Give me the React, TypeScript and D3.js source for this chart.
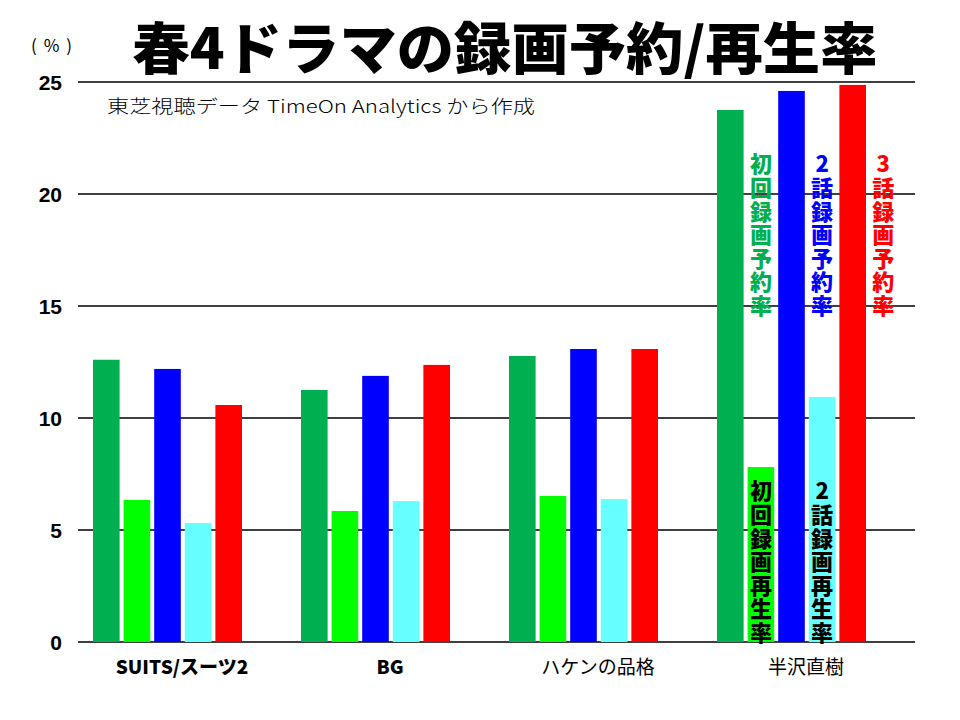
import { scaleBand, scaleLinear } from "d3";

const categories = ["SUITS/スーツ2", "BG", "ハケンの品格", "半沢直樹"];
const boldCategory = [true, true, false, false];

const seriesKeys = ["rsv1", "play1", "rsv2", "play2", "rsv3"];
const seriesColors = ["#00b050", "#00ff00", "#0000ff", "#66ffff", "#ff0000"];

// 初回録画予約率, 初回録画再生率, 2話録画予約率, 2話録画再生率, 3話録画予約率
const rsv1 = [12.6, 11.25, 12.77, 23.75];
const play1 = [6.34, 5.85, 6.52, 7.81];
const rsv2 = [12.19, 11.88, 13.08, 24.6];
const play2 = [5.31, 6.29, 6.38, 10.94];
const rsv3 = [10.58, 12.37, 13.08, 24.87];
const seriesValues = [rsv1, play1, rsv2, play2, rsv3];

const yTicks = [0, 5, 10, 15, 20, 25];

// vertical labels placed in the last group
const topLabels = [
  { text: "初回録画予約率", slot: 1, color: "#00b050" },
  { text: "2話録画予約率", slot: 3, color: "#0000ff" },
  { text: "3話録画予約率", slot: 5, color: "#ff0000" },
];
const bottomLabels = [
  { text: "初回録画再生率", slot: 1, color: "#000000" },
  { text: "2話録画再生率", slot: 3, color: "#000000" },
];

const W = 960;
const H = 720;
const PLOT = { left: 78, right: 910, top: 82, bottom: 642 };
const GRID_RIGHT = 915;
const CJK = "'Noto Sans CJK JP', sans-serif";

export default function App() {
  const x = scaleBand<string>().domain(categories).range([PLOT.left, PLOT.right]).padding(0);
  const inner = scaleBand<string>().domain(seriesKeys).range([15, 164]).paddingInner(0.13);
  const y = scaleLinear().domain([0, 25]).range([PLOT.bottom, PLOT.top]);
  const bw = inner.bandwidth();
  const step = inner.step();

  const last = categories[categories.length - 1];
  const slotX = (slot: number) => (x(last) ?? 0) + (inner(seriesKeys[0]) ?? 0) + slot * step + bw / 2;

  const vertical = (text: string, cx: number, topY: number, color: string, key: string) => (
    <text
      key={key}
      x={cx}
      y={topY}
      fontFamily={CJK}
      fontWeight={900}
      fontSize={22}
      fill={color}
      letterSpacing={1.6}
      style={{ writingMode: "vertical-rl", textOrientation: "upright" }}
    >
      {text}
    </text>
  );

  return (
    <svg
      width={W}
      height={H}
      viewBox={`0 0 ${W} ${H}`}
      style={{ position: "absolute", left: 0, top: 0, background: "#fff" }}
    >
      {/* Title */}
      <text
        x={505}
        y={69}
        textAnchor="middle"
        fontFamily={CJK}
        fontWeight={900}
        fontSize={56}
        textLength={745}
        lengthAdjust="spacingAndGlyphs"
      >
        春4ドラマの録画予約/再生率
      </text>
      <text
        x={31}
        y={52}
        fontFamily={CJK}
        fontSize={17}
        textLength={41}
        lengthAdjust="spacing"
      >
        (%)
      </text>

      {/* Gridlines + y labels */}
      {yTicks.map((t) => (
        <g key={t}>
          <line x1={PLOT.left} x2={GRID_RIGHT} y1={y(t)} y2={y(t)} stroke="#000" strokeWidth={1.3} />
          <text
            x={62}
            y={y(t)}
            dy="0.36em"
            textAnchor="end"
            fontFamily="'Liberation Sans', Arial, sans-serif"
            fontWeight={700}
            fontSize={21}
          >
            {t}
          </text>
        </g>
      ))}

      <text
        x={107}
        y={113}
        fontFamily={CJK}
        fontWeight={300}
        fontSize={18}
        textLength={428}
        lengthAdjust="spacingAndGlyphs"
      >
        東芝視聴データ TimeOn Analytics から作成
      </text>

      {/* Bars */}
      {categories.map((c, ci) => (
        <g key={c}>
          {seriesKeys.map((k, si) => {
            const v = seriesValues[si][ci];
            const bx = (x(c) ?? 0) + (inner(k) ?? 0);
            return <rect key={k} x={bx} y={y(v)} width={bw} height={y(0) - y(v)} fill={seriesColors[si]} />;
          })}
          <text
            x={(x(c) ?? 0) + x.bandwidth() / 2}
            y={674}
            textAnchor="middle"
            fontFamily={CJK}
            fontWeight={boldCategory[ci] ? 900 : 400}
            fontSize={19}
          >
            {c}
          </text>
        </g>
      ))}

      {/* Series labels */}
      {topLabels.map((l, i) => vertical(l.text, slotX(l.slot), 153, l.color, `t${i}`))}
      {bottomLabels.map((l, i) => vertical(l.text, slotX(l.slot), 480, l.color, `b${i}`))}
    </svg>
  );
}
